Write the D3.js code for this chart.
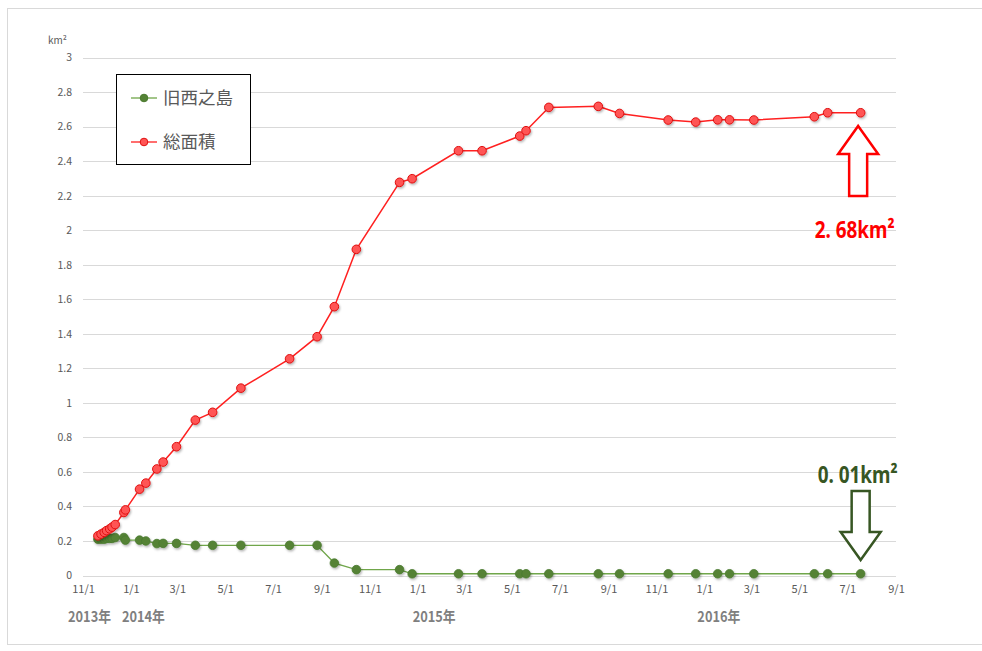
<!DOCTYPE html>
<html><head><meta charset="utf-8">
<script src="https://cdn.jsdelivr.net/npm/d3@7"></script>
<style>
body{margin:0;background:#fff;}
svg{display:block;}
</style></head>
<body><svg id="c" width="982" height="651"></svg>
<script>
const dates = ["2013-11-20","2013-11-24","2013-11-28","2013-12-01","2013-12-05","2013-12-08","2013-12-12","2013-12-23","2013-12-25",
"2014-01-12","2014-01-20","2014-02-03","2014-02-11","2014-02-28","2014-03-24","2014-04-15","2014-05-21","2014-07-22","2014-08-26",
"2014-09-17","2014-10-15","2014-12-09","2014-12-25","2015-02-22","2015-03-24","2015-05-11","2015-05-19","2015-06-17","2015-08-19",
"2015-09-15","2015-11-16","2015-12-21","2016-01-18","2016-02-02","2016-03-04","2016-05-20","2016-06-06","2016-07-18"];
const oldIsland = [0.21,0.21,0.21,0.215,0.215,0.215,0.22,0.22,0.205,
0.205,0.20,0.185,0.186,0.186,0.175,0.175,0.175,0.175,0.175,
0.072,0.034,0.034,0.01,0.01,0.01,0.01,0.01,0.01,0.01,
0.01,0.01,0.01,0.01,0.01,0.01,0.01,0.01,0.01];
const totalArea = [0.23,0.24,0.25,0.26,0.27,0.28,0.295,0.365,0.38,
0.50,0.535,0.617,0.657,0.746,0.90,0.945,1.085,1.255,1.383,
1.557,1.889,2.277,2.298,2.46,2.46,2.545,2.576,2.711,2.717,
2.676,2.638,2.626,2.639,2.639,2.638,2.657,2.68,2.68];
const seriesNames = ["旧西之島","総面積"];
const yTicks = [0,0.2,0.4,0.6,0.8,1,1.2,1.4,1.6,1.8,2,2.2,2.4,2.6,2.8,3];
const xTickDates = ["2013-11-01","2014-01-01","2014-03-01","2014-05-01","2014-07-01","2014-09-01","2014-11-01","2015-01-01","2015-03-01","2015-05-01","2015-07-01","2015-09-01","2015-11-01","2016-01-01","2016-03-01","2016-05-01","2016-07-01","2016-09-01"];
const xTickLabels = ["11/1","1/1","3/1","5/1","7/1","9/1","11/1","1/1","3/1","5/1","7/1","9/1","11/1","1/1","3/1","5/1","7/1","9/1"];
const yearLabels = ["2013年","2014年","2015年","2016年"];
const yearDates = ["2013-11-01","2014-01-01","2015-01-01","2016-01-01"];
const annotations = ["2.68","0.01"];

const parse = s => { const [y,m,d] = s.split("-").map(Number); return new Date(y, m-1, d); };
const svg = d3.select("#c");
const font = "'Noto Sans CJK JP','Noto Sans',sans-serif";

const x = d3.scaleTime().domain([parse("2013-11-01"), parse("2016-09-01")]).range([83, 896]);
const y = d3.scaleLinear().domain([0,3]).range([575.5, 57.5]);

// outer frame
svg.append("rect").attr("x",7.5).attr("y",8.5).attr("width",990).attr("height",636).attr("fill","none").attr("stroke","#d9d9d9");

const defs = svg.append("defs");
const f = defs.append("filter").attr("id","sh").attr("x","-50%").attr("y","-50%").attr("width","200%").attr("height","200%");
f.append("feDropShadow").attr("dx",1).attr("dy",1.5).attr("stdDeviation",1).attr("flood-color","#000").attr("flood-opacity",0.3);

// gridlines
svg.append("g").selectAll("line").data(yTicks).join("line")
  .attr("x1",83).attr("x2",896).attr("y1",d=>Math.round(y(d))+0.5).attr("y2",d=>Math.round(y(d))+0.5)
  .attr("stroke","#d9d9d9").attr("stroke-width",1);

// y axis
const yAxis = d3.axisLeft(y).tickValues(yTicks).tickSize(0).tickPadding(0).tickFormat(d=>String(d));
const yg = svg.append("g").attr("transform","translate(72,0)").call(yAxis);
yg.select(".domain").remove();
yg.selectAll("text").attr("fill","#595959").attr("font-size","10.5px").attr("font-family",font);

svg.append("text").attr("x",48).attr("y",44).attr("font-family",font).attr("font-size","10px").attr("fill","#595959").text("km²");

// x axis
const xAxis = d3.axisBottom(x).tickValues(xTickDates.map(parse)).tickSize(0).tickPadding(0)
  .tickFormat((d,i)=>xTickLabels[i]);
const xg = svg.append("g").attr("transform","translate(0,585)").call(xAxis);
xg.select(".domain").remove();
xg.selectAll("text").attr("fill","#595959").attr("font-size","11px").attr("font-family",font).attr("dy","0.71em");

svg.append("g").selectAll("text").data(yearLabels).join("text")
  .attr("x",(d,i)=>x(parse(yearDates[i])) + [-15,-9,-5,-7][i])
  .attr("y",622).attr("text-anchor","start")
  .attr("font-family",font).attr("font-weight","bold")
  .attr("font-size","15px").attr("fill","#7f7f7f")
  .attr("textLength",43).attr("lengthAdjust","spacingAndGlyphs").text(d=>d);

const data = dates.map((d,i)=>({date:parse(d), a:oldIsland[i], b:totalArea[i]}));

const lineA = d3.line().x(d=>x(d.date)).y(d=>y(d.a));
const lineB = d3.line().x(d=>x(d.date)).y(d=>y(d.b));

// old island series
svg.append("path").datum(data).attr("d",lineA).attr("fill","none").attr("stroke","#70a64a").attr("stroke-width",1.3);
svg.append("g").attr("filter","url(#sh)").selectAll("circle").data(data).join("circle")
  .attr("cx",d=>x(d.date)).attr("cy",d=>y(d.a)).attr("r",4.3).attr("fill","#548235").attr("stroke","#4a7a2e").attr("stroke-width",0.8);

// total area series
svg.append("path").datum(data).attr("d",lineB).attr("fill","none").attr("stroke","#ff2020").attr("stroke-width",1.5);
svg.append("g").attr("filter","url(#sh)").selectAll("circle").data(data).join("circle")
  .attr("cx",d=>x(d.date)).attr("cy",d=>y(d.b)).attr("r",4.3).attr("fill","#ff5555").attr("stroke","#e01010").attr("stroke-width",1);

// legend
const lg = svg.append("g");
lg.append("rect").attr("x",116.5).attr("y",74.5).attr("width",134).attr("height",90).attr("fill","#fff").attr("stroke","#000").attr("stroke-width",1);
[[98,"#70a64a","#548235","#4a7a2e",seriesNames[0]],[142,"#ff2020","#ff5555","#e01010",seriesNames[1]]].forEach(([yy,lc,fc,sc,name])=>{
  lg.append("line").attr("x1",131).attr("x2",157).attr("y1",yy).attr("y2",yy).attr("stroke",lc).attr("stroke-width",1.3);
  lg.append("circle").attr("cx",144).attr("cy",yy).attr("r",3.8).attr("fill",fc).attr("stroke",sc);
  lg.append("text").attr("x",163).attr("y",yy+6).attr("font-family",font).attr("font-size","17.5px").attr("fill","#595959").text(name);
});

// annotations
const last = data[data.length-1];
const lx = x(last.date);
// red up arrow
const rax = lx - 2.5, tipY = 126;
svg.append("path").attr("d",`M${rax},${tipY} L${rax+20},${tipY+28} L${rax+9},${tipY+28} L${rax+9},${tipY+70} L${rax-9},${tipY+70} L${rax-9},${tipY+28} L${rax-20},${tipY+28} Z`)
  .attr("fill","#fff").attr("stroke","#ff0000").attr("stroke-width",2.5).attr("stroke-linejoin","miter");

function annText(txt, left, base, color){
  svg.append("text").attr("x",left).attr("y",base).attr("font-family","'Noto Sans','DejaVu Sans',sans-serif").attr("font-weight","bold")
    .attr("font-size","24px").attr("fill",color).attr("textLength",80).attr("lengthAdjust","spacingAndGlyphs")
    .text(txt.replace(".",". ")+"km²");
}
annText(annotations[0], lx-46, 238, "#ff0000");

// green down arrow
const gax = lx, gTip = 560;
svg.append("path").attr("d",`M${gax},${gTip} L${gax+20},${gTip-28} L${gax+9},${gTip-28} L${gax+9},${gTip-69} L${gax-9},${gTip-69} L${gax-9},${gTip-28} L${gax-20},${gTip-28} Z`)
  .attr("fill","#fff").attr("stroke","#375623").attr("stroke-width",2.5);
annText(annotations[1], lx-43, 483, "#375623");
</script></body></html>
